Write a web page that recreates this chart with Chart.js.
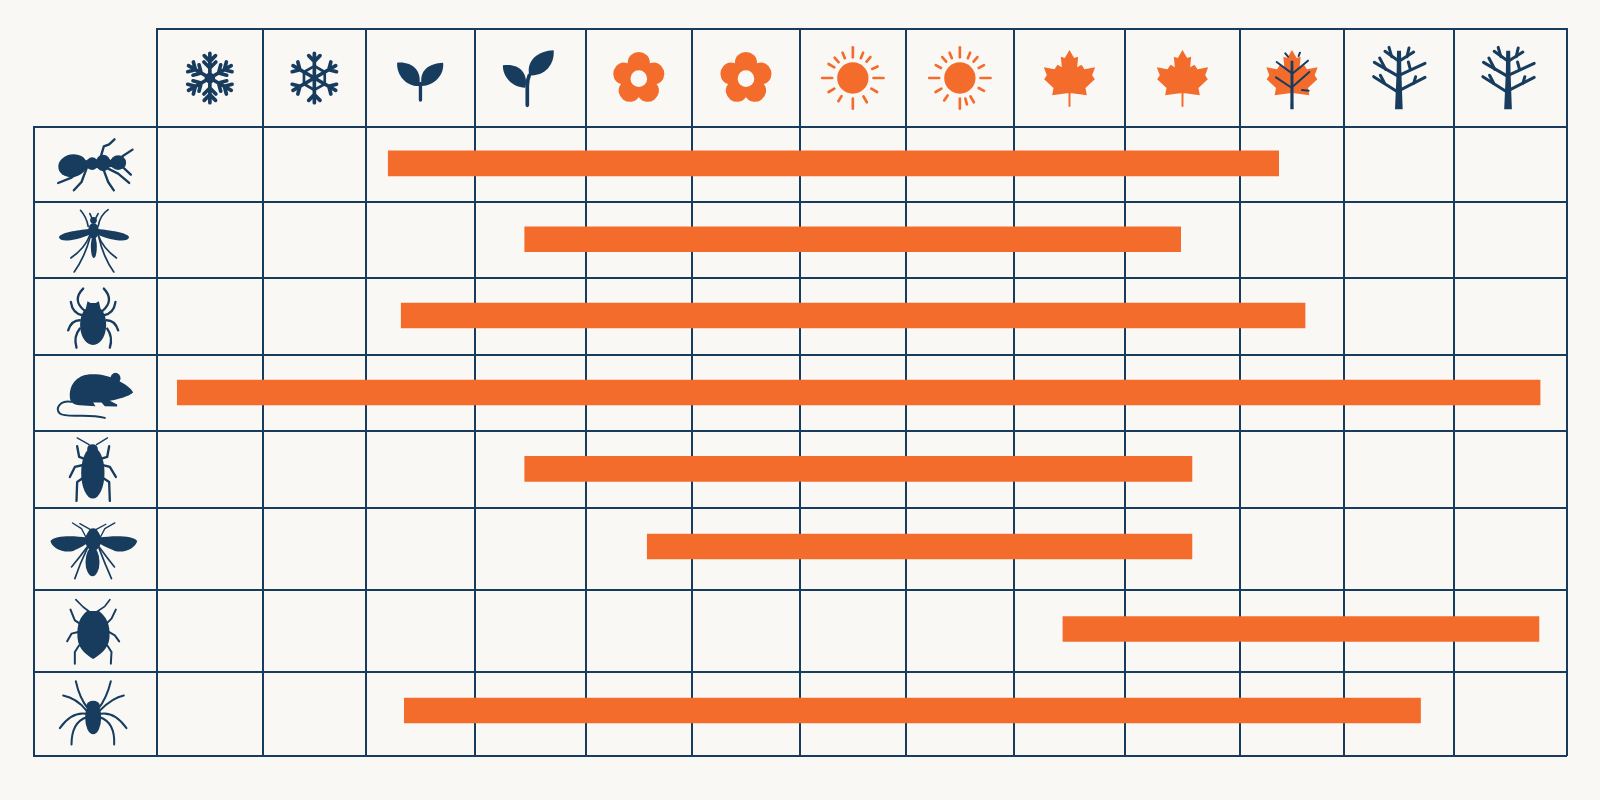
<!DOCTYPE html>
<html>
<head>
<meta charset="utf-8">
<title>Pest activity calendar</title>
<style>html,body{margin:0;padding:0;background:#faf8f5}canvas{display:block}</style>
<script src="https://cdn.jsdelivr.net/npm/chart.js@4/dist/chart.umd.min.js"></script>
</head>
<body>
<canvas id="c" width="1600" height="800"></canvas>
<script>
// ---- data (axis units: percent of the year / percent of the table height)
const pests     = ['Ant','Mosquito','Tick','Mouse','Cockroach','Wasp','Stink bug','Spider'];
const barStart  = [16.40, 26.08, 17.32,  1.44, 26.08, 34.77, 64.25, 17.54];
const barEnd    = [79.55, 72.60, 81.42, 98.09, 73.40, 73.40, 98.01, 89.61];
const barRow    = [ 5.79, 17.85, 29.97, 42.21, 54.34, 66.69, 79.81, 92.77];
const colEdges  = [0, 7.50, 14.82, 22.55, 30.40, 37.94, 45.60, 53.10, 60.78, 68.65, 76.81, 84.18, 91.99, 100];
const rowEdges  = [0, 11.97, 24.05, 36.29, 48.31, 60.62, 73.65, 86.60, 100];
const seasonIcons = ['snow1','snow2','sprout1','sprout2','flower','flower','sun1','sun2','maple','maple','mapleTree','tree','tree2'];
const pestIcons   = ['ant','mosquito','tick','mouse','roach','wasp','bug','spider'];

const NAVY = '#173c5e', ORANGE = '#f36c2c', BG = '#faf8f5';

// ---- icon helpers (icons are authored at 3x, around their own centre)
function strokes(ctx, paths, w, color){
  ctx.strokeStyle = color; ctx.lineWidth = w; ctx.lineCap='round'; ctx.lineJoin='round';
  paths.forEach(p => ctx.stroke(new Path2D(p)));
}
function fills(ctx, paths, color){
  ctx.fillStyle = color;
  paths.forEach(p => ctx.fill(new Path2D(p)));
}
function ell(ctx, x, y, rx, ry, color, rot){
  ctx.fillStyle = color; ctx.beginPath(); ctx.ellipse(x,y,rx,ry,rot||0,0,Math.PI*2); ctx.fill();
}
function snow(ctx, inner){
  ctx.strokeStyle = NAVY; ctx.lineCap='round'; ctx.lineJoin='round';
  for(let i=0;i<6;i++){
    ctx.save(); ctx.rotate(i*Math.PI/3);
    ctx.lineWidth = 11;
    ctx.beginPath(); ctx.moveTo(0,0); ctx.lineTo(0,-74);
    [[-50,17],[-30,inner?0:18]].forEach(([y,d])=>{ if(d){ctx.moveTo(0,y);ctx.lineTo(-d,y-d);ctx.moveTo(0,y);ctx.lineTo(d,y-d);} });
    ctx.stroke();
    if(inner){
      ctx.lineWidth = 8; ctx.beginPath(); ctx.moveTo(0,-36);
      ctx.lineTo(31,-18); ctx.stroke();
    }
    ctx.restore();
  }
  ell(ctx,0,0,inner?10:16,inner?10:16,NAVY);
}
function flower(ctx){
  for(let i=0;i<5;i++){
    const a = -Math.PI/2 + i*2*Math.PI/5;
    ell(ctx, Math.cos(a)*48, Math.sin(a)*48+1, 33, 31, ORANGE, a+Math.PI/2);
  }
  ell(ctx,0,2,34,34,ORANGE);
  ell(ctx,0,2,25,25,BG);
}
function sun(ctx, angles){
  ell(ctx,0,0,47,47,ORANGE);
  ctx.strokeStyle = ORANGE; ctx.lineWidth = 8; ctx.lineCap='round';
  angles.forEach(a=>{
    const long = a%90===0, r0 = long?62:64, r1 = long?92:(a%30===0?84:82);
    const t = (a-90)*Math.PI/180;
    ctx.beginPath(); ctx.moveTo(Math.cos(t)*r0,Math.sin(t)*r0); ctx.lineTo(Math.cos(t)*r1,Math.sin(t)*r1); ctx.stroke();
  });
}
function maple(ctx, withStem){
  const half = [[0,-84],[14,-60],[26,-64],[23,-32],[36,-40],[45,-26],[77,-32],[68,-8],[76,4],[48,30],[52,52],[8,46]];
  ctx.fillStyle = ORANGE; ctx.beginPath();
  half.forEach(([x,y],i)=> i?ctx.lineTo(x,y):ctx.moveTo(x,y));
  half.slice().reverse().forEach(([x,y])=>ctx.lineTo(-x,y));
  ctx.closePath(); ctx.fill();
  if(withStem) strokes(ctx,['M0,40L0,84'],6,ORANGE);
}
function tree(ctx){
  ctx.fillStyle = NAVY;
  ctx.fill(new Path2D('M-12,94L11,94L7,-20L6,-82L-6,-82L-7,-20Z'));
  strokes(ctx,[
    'M0,44L-76,-4','M-44,14L-56,-8','M0,38L78,-2','M44,16L50,-4',
    'M0,-4L-74,-47','M-40,-26L-58,-60','M0,-8L78,-44','M34,-26L28,-48',
    'M0,-50L-42,-80','M-22,-64L-30,-92','M0,-50L44,-78','M24,-64L30,-90'
  ],9,NAVY);
}
function mapleTree(ctx){
  maple(ctx,false);
  ctx.fillStyle = NAVY; ctx.fill(new Path2D('M-5,94L5,94L4,-52L-4,-52Z'));
  strokes(ctx,['M0,30L-48,-2','M0,28L52,-18','M0,-14L-46,-48','M0,-12L48,-52','M-12,-64L-20,-74','M20,-66L24,-76','M30,36L50,38'],6,NAVY);
}
const drawers = {
  snow1: c=>snow(c,false),
  snow2: c=>snow(c,true),
  sprout1: c=>{
    fills(c,['M-4,24C-40,26-72,-6-70,-46C-26,-50 6,-24-4,24Z','M4,24C40,22 72,-8 68,-46C26,-44-6,-24 4,24Z'],NAVY);
    strokes(c,['M0,16L0,66'],10,NAVY);
  },
  sprout2: c=>{
    fills(c,['M-15,29C-52,30-84,-3-82,-38C-38,-46-4,-18-15,29Z','M-3,-8C-14,-52 25,-82 70,-83C74,-38 40,-4-3,-8Z'],NAVY);
    strokes(c,['M-9,82L-9,24Q-9,5-3,-8'],11,NAVY);
  },
  flower: flower,
  sun1: c=>sun(c,[0,22,40,65,90,120,150,180,212,240,270,300,318,338]),
  sun2: c=>sun(c,[0,22,40,62,90,118,150,165,180,215,240,270,298,320,338]),
  maple: c=>maple(c,true),
  mapleTree: mapleTree,
  tree: tree,
  tree2: c=>{c.translate(-7,0);tree(c);},
  ant: c=>{
    c.translate(-197,-133);
    ell(c,128,136,43,34,NAVY,-0.2); ell(c,187,130,18,19,NAVY); ell(c,220,128,22,25,NAVY); ell(c,265,127,24,22,NAVY);
    fills(c,['M155,120L250,118L250,140L155,146Z'],NAVY);
    strokes(c,['M165,145L125,172L85,188','M170,145L155,185L132,210','M222,150L235,185L252,210','M235,145L265,160L298,188',
               'M212,112L222,78L238,72L254,57','M278,108L308,88','M278,140L303,163'],7,NAVY);
  },
  mosquito: c=>{
    c.translate(-197,-360);
    ell(c,191,332,16,24,NAVY); ell(c,191,300,10,10,NAVY); ell(c,192,380,9,34,NAVY);
    fills(c,['M178,326C140,330 95,336 87,350C90,366 125,364 178,344Z','M204,326C240,330 290,336 298,350C295,366 258,364 204,344Z'],NAVY);
    strokes(c,['M180,345Q165,385 123,413','M181,350Q165,410 133,455','M205,345Q220,385 260,413','M207,350Q220,410 252,455',
               'M175,318Q170,290 152,270','M205,318Q210,285 235,268','M187,295L180,280','M197,295L205,280'],5,NAVY);
  },
  tick: c=>{
    c.translate(-197,-589.5);
    fills(c,['M173,543L182,548L198,548L207,543L212,565C240,590 234,672 190,674C146,672 140,590 168,565Z'],NAVY);
    strokes(c,['M165,572Q125,540 160,505','M218,572Q255,540 222,505','M158,585Q128,580 123,545','M222,585Q252,580 257,545',
               'M150,600Q125,600 115,630','M230,600Q255,600 265,630','M150,625Q130,650 140,682','M232,625Q250,650 240,682'],7,NAVY);
  },
  mouse: c=>{
    c.translate(-197,-128.6);
    ell(c,257,84,15,16,NAVY);
    fills(c,['M120,140C118,95 150,70 190,72C215,72 240,78 258,88C285,100 305,115 310,127C295,140 265,147 240,152L262,163L262,169L225,168L215,157L190,157L197,168L150,165C130,165 120,155 120,140Z'],NAVY);
    strokes(c,['M125,155C90,150 75,175 90,190C110,205 170,188 225,203'],6,NAVY);
  },
  roach: c=>{
    c.translate(-197,-358);
    ell(c,189,368,35,77,NAVY); ell(c,188,296,16,14,NAVY);
    strokes(c,['M178,283L142,263','M200,283L233,263'],4,NAVY);
    strokes(c,['M162,325L148,320L142,288','M215,325L232,320L238,288','M157,345L135,350L120,380','M222,345L240,350L258,380',
               'M157,385L142,395L140,452','M222,385L238,395L240,452'],7,NAVY);
  },
  wasp: c=>{
    c.translate(-197,-597);
    ell(c,190,570,24,32,NAVY); ell(c,190,548,15,14,NAVY); ell(c,188,635,21,43,NAVY);
    fills(c,['M172,562C130,555 75,555 62,572C65,592 100,610 130,602C150,594 165,584 172,580Z','M208,562C250,555 310,555 322,572C318,592 285,610 255,602C235,594 215,584 208,580Z'],NAVY);
    strokes(c,['M168,560L155,535L128,518','M212,560L225,535L255,518','M182,538L150,520','M198,538L228,522'],4,NAVY);
    strokes(c,['M172,590Q150,620 125,650','M172,595Q150,640 135,685','M208,590Q230,620 254,650','M208,595Q225,640 245,685'],5,NAVY);
  },
  bug: c=>{
    c.translate(-197,-152);
    fills(c,['M172,92L207,92C228,108 242,130 239,172C236,208 205,226 190,236C175,226 145,208 143,172C140,130 152,108 172,92Z'],NAVY);
    strokes(c,['M180,95L160,80L138,58','M200,95L225,78L240,58'],5,NAVY);
    strokes(c,['M150,130L135,120L122,88','M230,130L245,115L258,88','M145,155L125,160L112,183','M237,155L255,165L268,183',
               'M148,195L135,215L135,250','M232,195L245,215L243,250'],6,NAVY);
  },
  spider: c=>{
    c.translate(-197,-400);
    ell(c,190,412,24,49,NAVY); ell(c,190,375,20,14,NAVY);
    strokes(c,['M175,385C155,360 145,335 138,302','M205,385C225,360 235,335 243,302','M170,390C150,365 125,350 100,345','M210,390C235,365 255,350 282,345',
               'M168,400C135,395 110,415 90,443','M213,400C245,395 270,415 290,443','M170,410C140,420 125,450 125,492','M210,410C240,420 255,450 253,492'],6,NAVY);
  }
};
function stamp(ctx, name, x, y){
  ctx.save(); ctx.translate(x,y); ctx.scale(1/3,1/3); drawers[name](ctx); ctx.restore();
}

const tableFrame = {
  id:'tableFrame',
  beforeDatasetsDraw(chart){
    const {ctx, chartArea:a, scales:{x,y}} = chart;
    const top = a.top - x.options.grid.tickLength, left = a.left - y.options.grid.tickLength;
    ctx.save(); ctx.strokeStyle = NAVY; ctx.lineWidth = 2; ctx.lineCap='square';
    ctx.beginPath();
    ctx.moveTo(x.getPixelForValue(colEdges[0]), top); ctx.lineTo(x.getPixelForValue(colEdges[13]), top);
    ctx.moveTo(left, y.getPixelForValue(rowEdges[0])); ctx.lineTo(left, y.getPixelForValue(rowEdges[8]));
    ctx.stroke(); ctx.restore();
  },
  afterDraw(chart){
    const {ctx, chartArea:a, scales:{x,y}} = chart;
    const headMid = a.top - x.options.grid.tickLength/2, labelMid = a.left - y.options.grid.tickLength/2;
    seasonIcons.forEach((n,i)=> stamp(ctx,n,(x.getPixelForValue(colEdges[i])+x.getPixelForValue(colEdges[i+1]))/2,headMid));
    pestIcons.forEach((n,i)=> stamp(ctx,n,labelMid,(y.getPixelForValue(rowEdges[i])+y.getPixelForValue(rowEdges[i+1]))/2));
  }
};

new Chart(document.getElementById('c'),{
  type:'bar',
  data:{datasets:[{
    label:'Active period',
    data:pests.map((p,i)=>({x:[barStart[i],barEnd[i]],y:barRow[i]})),
    backgroundColor:ORANGE,
    borderWidth:0,
    barThickness:25
  }]},
  options:{
    indexAxis:'y',
    responsive:false,
    animation:false,
    layout:{padding:{left:34,top:29,right:33,bottom:44}},
    plugins:{legend:{display:false},tooltip:{enabled:false},title:{display:false}},
    scales:{
      x:{type:'linear',position:'top',min:0,max:100,
         afterBuildTicks:s=>{s.ticks=colEdges.map(v=>({value:v}));},
         ticks:{display:false,autoSkip:false},
         border:{display:false},
         grid:{color:NAVY,lineWidth:2,tickLength:98,drawTicks:true}},
      y:{type:'linear',position:'left',reverse:true,min:0,max:100,offset:false,
         afterBuildTicks:s=>{s.ticks=rowEdges.map(v=>({value:v}));},
         ticks:{display:false,autoSkip:false},
         border:{display:false},
         grid:{color:NAVY,lineWidth:2,tickLength:123,drawTicks:true,offset:false}}
    }
  },
  plugins:[tableFrame]
});
</script>
</body>
</html>
